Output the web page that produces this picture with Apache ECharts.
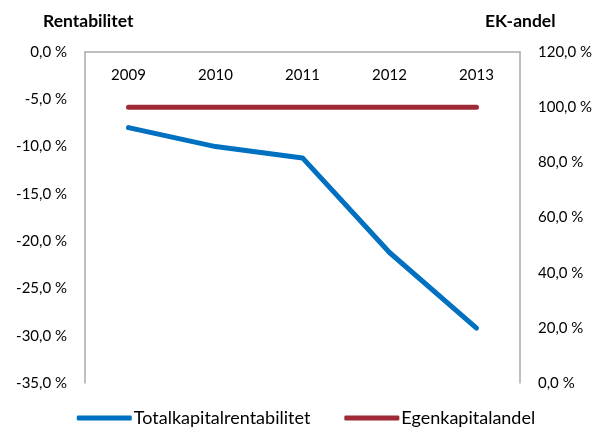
<!DOCTYPE html>
<html>
<head>
<meta charset="utf-8">
<script src="https://cdn.jsdelivr.net/npm/echarts@6/dist/echarts.min.js"></script>
<style>
  html, body { margin: 0; padding: 0; background: #fff; }
  #chart { width: 612px; height: 432px; }
</style>
</head>
<body>
<div id="chart"></div>
<script>
var years = ['2009', '2010', '2011', '2012', '2013'];
var totalkapitalrentabilitet = [-8.0, -10.0, -11.2, -21.2, -29.2];
var egenkapitalandel = [100, 100, 100, 100, 100];

var font = 'Lato, "Open Sans", sans-serif';
var pct = function (v) { return v.toFixed(1).replace('.', ',') + ' %'; };

var myChart = echarts.init(document.getElementById('chart'));

var option = {
    animation: false,
    color: ['#0070C0', '#9E2A36'],
    textStyle: { fontFamily: font },
    grid: { left: 85, right: 92, top: 52, bottom: 49 },
    graphic: [
        { type: 'text', left: 43, top: 12, style: { text: 'Rentabilitet', font: 'bold 17.5px ' + font, fill: '#000' } },
        { type: 'text', left: 485, top: 12, style: { text: 'EK-andel', font: 'bold 17.5px ' + font, fill: '#000' } }
    ],
    legend: {
        bottom: 0,
        left: 'center',
        itemWidth: 55,
        itemHeight: 5,
        itemGap: 34,
        icon: 'roundRect',
        textStyle: { fontSize: 18, color: '#000', fontFamily: font, padding: [0, 0, 0, -3] },
        data: ['Totalkapitalrentabilitet', 'Egenkapitalandel']
    },
    xAxis: {
        type: 'category',
        position: 'top',
        data: years,
        axisLine: { onZero: false, lineStyle: { color: '#aaaaaa', width: 1.5 } },
        axisTick: { show: false },
        axisLabel: { inside: true, margin: 16, fontSize: 15, color: '#000', fontFamily: font }
    },
    yAxis: [
        {
            type: 'value',
            min: -35, max: 0, interval: 5,
            axisLine: { show: true, lineStyle: { color: '#aaaaaa', width: 1.5 } },
            axisTick: { show: false },
            splitLine: { show: false },
            axisLabel: { fontSize: 15, color: '#000', margin: 18, fontFamily: font, formatter: pct }
        },
        {
            type: 'value',
            min: 0, max: 120, interval: 20,
            axisLine: { show: true, lineStyle: { color: '#aaaaaa', width: 1.5 } },
            axisTick: { show: false },
            splitLine: { show: false },
            axisLabel: { fontSize: 15, color: '#000', margin: 18, fontFamily: font, formatter: pct }
        }
    ],
    series: [
        {
            name: 'Totalkapitalrentabilitet',
            type: 'line',
            yAxisIndex: 0,
            data: totalkapitalrentabilitet,
            symbol: 'none',
            lineStyle: { width: 5, cap: 'round', join: 'round' }
        },
        {
            name: 'Egenkapitalandel',
            type: 'line',
            yAxisIndex: 1,
            data: egenkapitalandel,
            symbol: 'none',
            lineStyle: { width: 5, cap: 'round' }
        }
    ]
};
option && myChart.setOption(option);
</script>
</body>
</html>
